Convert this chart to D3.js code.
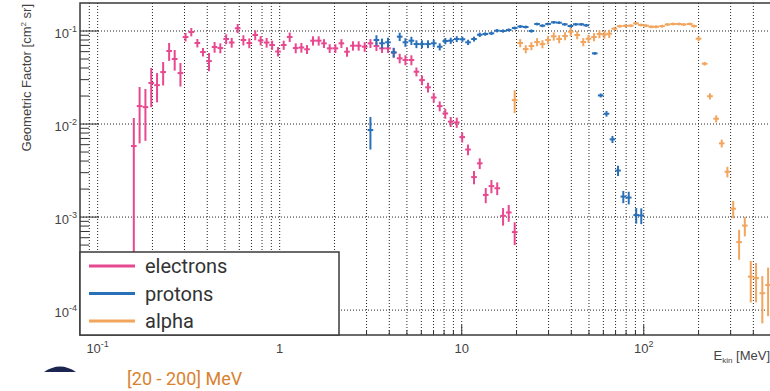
<!DOCTYPE html>
<html lang="en">
<head>
<meta charset="UTF-8">
<title>Geometric factor</title>
<script src="https://d3js.org/d3.v7.min.js"></script>
<style>
    body { margin: 0; background: #fff; }
    text { font-family: "Liberation Sans", Arial, sans-serif; fill: #444; }
    .leg text, .note { font-family: Roboto, "Liberation Sans", sans-serif; }
</style>
</head>
<body>
<div id="chart"></div>
<script>

    var width = 770,
        height = 391;

    // electrons
    var eEnergy = [0.158,0.170,0.183,0.197,0.212,0.229,0.247,0.265,0.285,0.304,0.327,0.353,0.379,0.409,0.439,
        0.472,0.508,0.545,0.588,0.632,0.681,0.734,0.786,0.848,0.909,0.979,1.052,1.135,1.225,1.316,
        1.413,1.524,1.638,1.751,1.882,2.023,2.183,2.343,2.527,2.716,2.931,3.151,3.40,3.649,3.936,
        4.231,4.563,4.906,5.291,5.639,6.052,6.53,7.02,7.57,8.12,8.70,9.39,10.06,10.83,11.68,
        12.56,13.55,14.56,15.67,16.87,18.12,19.54];
    var eGF = [0.0058,0.0156,0.0152,0.0276,0.0262,0.0362,0.061,0.050,0.0353,0.0862,0.0976,0.0743,0.0594,0.0475,0.0673,
        0.0656,0.082,0.0752,0.107,0.080,0.0743,0.0906,0.079,0.0752,0.0707,0.0602,0.0707,0.0862,0.0656,0.0665,
        0.0636,0.0787,0.0787,0.0737,0.0651,0.0651,0.0737,0.0599,0.0695,0.0695,0.0678,0.0737,0.069,0.0651,0.0651,
        0.0585,0.0509,0.0488,0.0488,0.0365,0.0297,0.0248,0.0193,0.0156,0.0130,0.0106,0.0104,0.00724,0.00532,0.00269,
        0.00378,0.00173,0.00215,0.00204,0.00103,0.00112,0.00069];
    var eErr = [0.0058,0.0094,0.0086,0.0124,0.0091,0.0102,0.0133,0.0125,0.0100,0.0090,0.0101,0.0077,0.0062,0.0105,0.0089,
        0.008,0.010,0.009,0.012,0.010,0.009,0.011,0.009,0.009,0.008,0.007,0.008,0.010,0.008,0.008,
        0.007,0.009,0.009,0.008,0.007,0.007,0.008,0.007,0.008,0.008,0.008,0.008,0.008,0.007,0.007,
        0.007,0.006,0.006,0.006,0.004,0.0035,0.003,0.0023,0.0019,0.0016,0.0013,0.0013,0.0009,0.0007,0.00044,
        0.0005,0.00032,0.00035,0.00032,0.00022,0.00023,0.00019];

    // protons
    var pEnergy = [3.151,3.40,3.649,3.936,4.231,4.563,4.906,5.291,5.639,6.052,
        6.53,7.02,7.57,8.13,8.70,9.39,10.09,10.84,11.68,12.56,
        13.47,14.56,15.63,16.87,18.12,19.54,20.96,22.47,24.15,25.93,
        27.76,29.80,32.03,34.24,36.81,39.56,42.31,45.36,48.32,53.8,
        58.0,62.4,67.3,72.2,77.2,82.7,90.9,96.9];
    var pGF = [0.00862,0.080,0.0738,0.0756,0.059,0.0869,0.0756,0.0787,0.0724,0.0724,
        0.0724,0.0738,0.0678,0.078,0.0787,0.082,0.0815,0.0756,0.082,0.0912,
        0.0928,0.0944,0.1008,0.100,0.1025,0.1077,0.1118,0.1104,0.100,0.1189,
        0.114,0.1189,0.124,0.1228,0.118,0.1132,0.118,0.118,0.1151,0.0575,
        0.0203,0.0129,0.00685,0.00316,0.00166,0.00162,0.00105,0.00104];
    var pErr = [0.0033,0.010,0.009,0.009,0.007,0.009,0.008,0.008,0.007,0.007,
        0.007,0.007,0.006,0.006,0.006,0.006,0.005,0.005,0.005,0.005,
        0.004,0.004,0.004,0.004,0.004,0.004,0.004,0.004,0.004,0.004,
        0.004,0.004,0.004,0.004,0.004,0.004,0.004,0.004,0.004,0.002,
        0.001,0.0009,0.0006,0.0004,0.00025,0.00025,0.0002,0.0002];

    // alpha
    var aEnergy = [19.54,20.96,22.47,24.15,25.93,27.76,29.80,32.03,34.3,36.95,
        39.7,43.1,46.5,49.7,53.3,57.1,60.8,64.6,68.9,73.8,
        79.4,84.8,90.6,96.5,103,110,117,126,135,145,
        156,166,179,189,200,216,231,250,268,288,
        310,334,359,387,414,448,482];
    var aGF = [0.0181,0.0743,0.064,0.069,0.0762,0.0724,0.080,0.0877,0.082,0.0883,
        0.0983,0.0906,0.0762,0.0826,0.0862,0.0929,0.0917,0.0935,0.1059,0.1127,
        0.1137,0.114,0.121,0.116,0.114,0.111,0.111,0.1127,0.1175,0.119,
        0.119,0.1175,0.119,0.113,0.0826,0.0445,0.0199,0.0114,0.0062,0.00307,
        0.00123,0.000538,0.00081,0.000229,0.000221,0.000152,0.000186];
    var aErr = [0.005,0.0074,0.0064,0.0069,0.0076,0.0072,0.008,0.0088,0.0082,0.0088,
        0.0098,0.009,0.0076,0.0082,0.0086,0.0093,0.0092,0.0093,0.004,0.004,
        0.004,0.004,0.004,0.004,0.004,0.004,0.004,0.004,0.004,0.004,
        0.004,0.004,0.004,0.004,0.005,0.002,0.0015,0.001,0.0006,0.0004,
        0.00026,0.00019,0.00019,0.000108,0.0001,0.00008,0.0001];

    var seriesNames = ["electrons", "protons", "alpha"];
    var seriesColors = ["#e8488f", "#2a70b9", "#f2a55d"];

    var xTicks = [0.1, 1, 10, 100];
    var xTickBase = ["10", "1", "10", "10"];
    var xTickExp = ["-1", "", "", "2"];
    var yTicks = [0.1, 0.01, 0.001, 0.0001];
    var yTickExp = ["-1", "-2", "-3", "-4"];

    var x = d3.scaleLog().domain([0.08, 500]).range([80, 771]);
    var y = d3.scaleLog().domain([5.4e-5, 0.2]).range([335, 3]);

    var svg = d3.select("#chart")
        .append("svg")
        .attr("width", width)
        .attr("height", height);

    svg.append("clipPath").attr("id", "plot")
        .append("rect")
        .attr("x", 80).attr("y", 3)
        .attr("width", 691).attr("height", 332);

    // minor positions 1..9 x 10^n inside a domain
    function logSteps(dom) {
        var out = [];
        for (var n = -6; n <= 4; n++) {
            for (var k = 1; k <= 9; k++) {
                var v = k * Math.pow(10, n);
                if (v >= dom[0] * 1.0001 && v <= dom[1] * 0.9999) out.push(v);
            }
        }
        return out;
    }
    var xSteps = logSteps(x.domain());
    var ySteps = logSteps(y.domain());

    // grid
    var grid = svg.append("g")
        .attr("stroke", "#222")
        .attr("stroke-width", 1)
        .attr("stroke-dasharray", "1,2");
    grid.selectAll(".gx").data(xSteps).enter()
        .append("line")
        .attr("x1", function(d){ return x(d); })
        .attr("x2", function(d){ return x(d); })
        .attr("y1", 3).attr("y2", 335);
    grid.selectAll(".gy").data(yTicks).enter()
        .append("line")
        .attr("x1", 80).attr("x2", 771)
        .attr("y1", function(d){ return y(d); })
        .attr("y2", function(d){ return y(d); });

    // data with error bars
    var series = [
        {E: eEnergy, G: eGF, S: eErr},
        {E: pEnergy, G: pGF, S: pErr},
        {E: aEnergy, G: aGF, S: aErr}
    ];
    var halfBin = Math.pow(10, 0.0155);
    var plot = svg.append("g").attr("clip-path", "url(#plot)");

    series.forEach(function(s, si) {
        var pts = s.E.map(function(e, i){ return {e: e, g: s.G[i], s: s.S[i]}; });
        var g = plot.append("g")
            .attr("stroke", seriesColors[si])
            .attr("stroke-width", 2);
        g.selectAll(".ev").data(pts).enter()
            .append("line")
            .attr("x1", function(d){ return x(d.e); })
            .attr("x2", function(d){ return x(d.e); })
            .attr("y1", function(d){ return y(d.g + d.s); })
            .attr("y2", function(d){ return y(Math.max(d.g - d.s, 1e-6)); });
        g.selectAll(".eh").data(pts).enter()
            .append("line")
            .attr("x1", function(d){ return x(d.e / halfBin); })
            .attr("x2", function(d){ return x(d.e * halfBin); })
            .attr("y1", function(d){ return y(d.g); })
            .attr("y2", function(d){ return y(d.g); });
    });

    // axis ticks
    var ticks = svg.append("g").attr("stroke", "#333").attr("stroke-width", 1);
    ticks.selectAll(".tx").data(xSteps).enter()
        .append("line")
        .attr("x1", function(d){ return x(d); })
        .attr("x2", function(d){ return x(d); })
        .attr("y1", 335)
        .attr("y2", function(d){ return xTicks.indexOf(d) >= 0 ? 325 : 330; });
    ticks.selectAll(".ty").data(ySteps).enter()
        .append("line")
        .attr("y1", function(d){ return y(d); })
        .attr("y2", function(d){ return y(d); })
        .attr("x1", 80)
        .attr("x2", function(d){ return yTicks.indexOf(d) >= 0 ? 99 : 89; });

    // frame
    svg.append("rect")
        .attr("x", 80).attr("y", 3)
        .attr("width", 691).attr("height", 332)
        .attr("fill", "none")
        .attr("stroke", "#3a3a3a")
        .attr("stroke-width", 1.5);

    // tick labels
    xTicks.forEach(function(v, i) {
        var t = svg.append("text")
            .attr("x", x(v)).attr("y", 353)
            .attr("text-anchor", "middle")
            .style("font-size", "13px");
        t.append("tspan").text(xTickBase[i]);
        if (xTickExp[i]) t.append("tspan").attr("dy", -6).style("font-size", "9px").text(xTickExp[i]);
    });
    yTicks.forEach(function(v, i) {
        var t = svg.append("text")
            .attr("x", 77).attr("y", y(v) + 7)
            .attr("text-anchor", "end")
            .style("font-size", "13px");
        t.append("tspan").text("10");
        t.append("tspan").attr("dy", -6).style("font-size", "9px").text(yTickExp[i]);
    });

    // axis titles
    var xt = svg.append("text")
        .attr("x", 770).attr("y", 360)
        .attr("text-anchor", "end")
        .style("font-size", "13px");
    xt.append("tspan").text("E");
    xt.append("tspan").attr("dy", 3).style("font-size", "8px").text("kin");
    xt.append("tspan").attr("dy", -3).text(" [MeV]");

    var yt = svg.append("text")
        .attr("transform", "translate(31,4) rotate(-90)")
        .attr("text-anchor", "end")
        .style("font-size", "13px");
    yt.append("tspan").text("Geometric Factor [cm");
    yt.append("tspan").attr("dy", -5).style("font-size", "8px").text("2");
    yt.append("tspan").attr("dy", 5).text(" sr]");

    // legend
    var leg = svg.append("g").attr("class", "leg");
    leg.append("rect")
        .attr("x", 80).attr("y", 252)
        .attr("width", 259).attr("height", 83)
        .attr("fill", "#fff")
        .attr("stroke", "#3a3a3a")
        .attr("stroke-width", 1.5);
    seriesNames.forEach(function(name, i) {
        var ly = 266 + i * 27.5;
        leg.append("line")
            .attr("x1", 89).attr("x2", 135)
            .attr("y1", ly).attr("y2", ly)
            .attr("stroke", seriesColors[i])
            .attr("stroke-width", 3);
        leg.append("text")
            .attr("x", 145).attr("y", ly + 7)
            .style("font-size", "20px")
            .style("fill", "#333")
            .text(name);
    });

    // fragment of the neighbouring figure
    svg.append("path")
        .attr("d", "M44,372 Q60,361 76,372 Z")
        .attr("fill", "#1b2550");
    svg.append("text")
        .attr("class", "note")
        .attr("x", 127).attr("y", 385)
        .style("font-size", "18px")
        .style("fill", "#d9822e")
        .text("[20 - 200] MeV");

</script>
</body>
</html>
